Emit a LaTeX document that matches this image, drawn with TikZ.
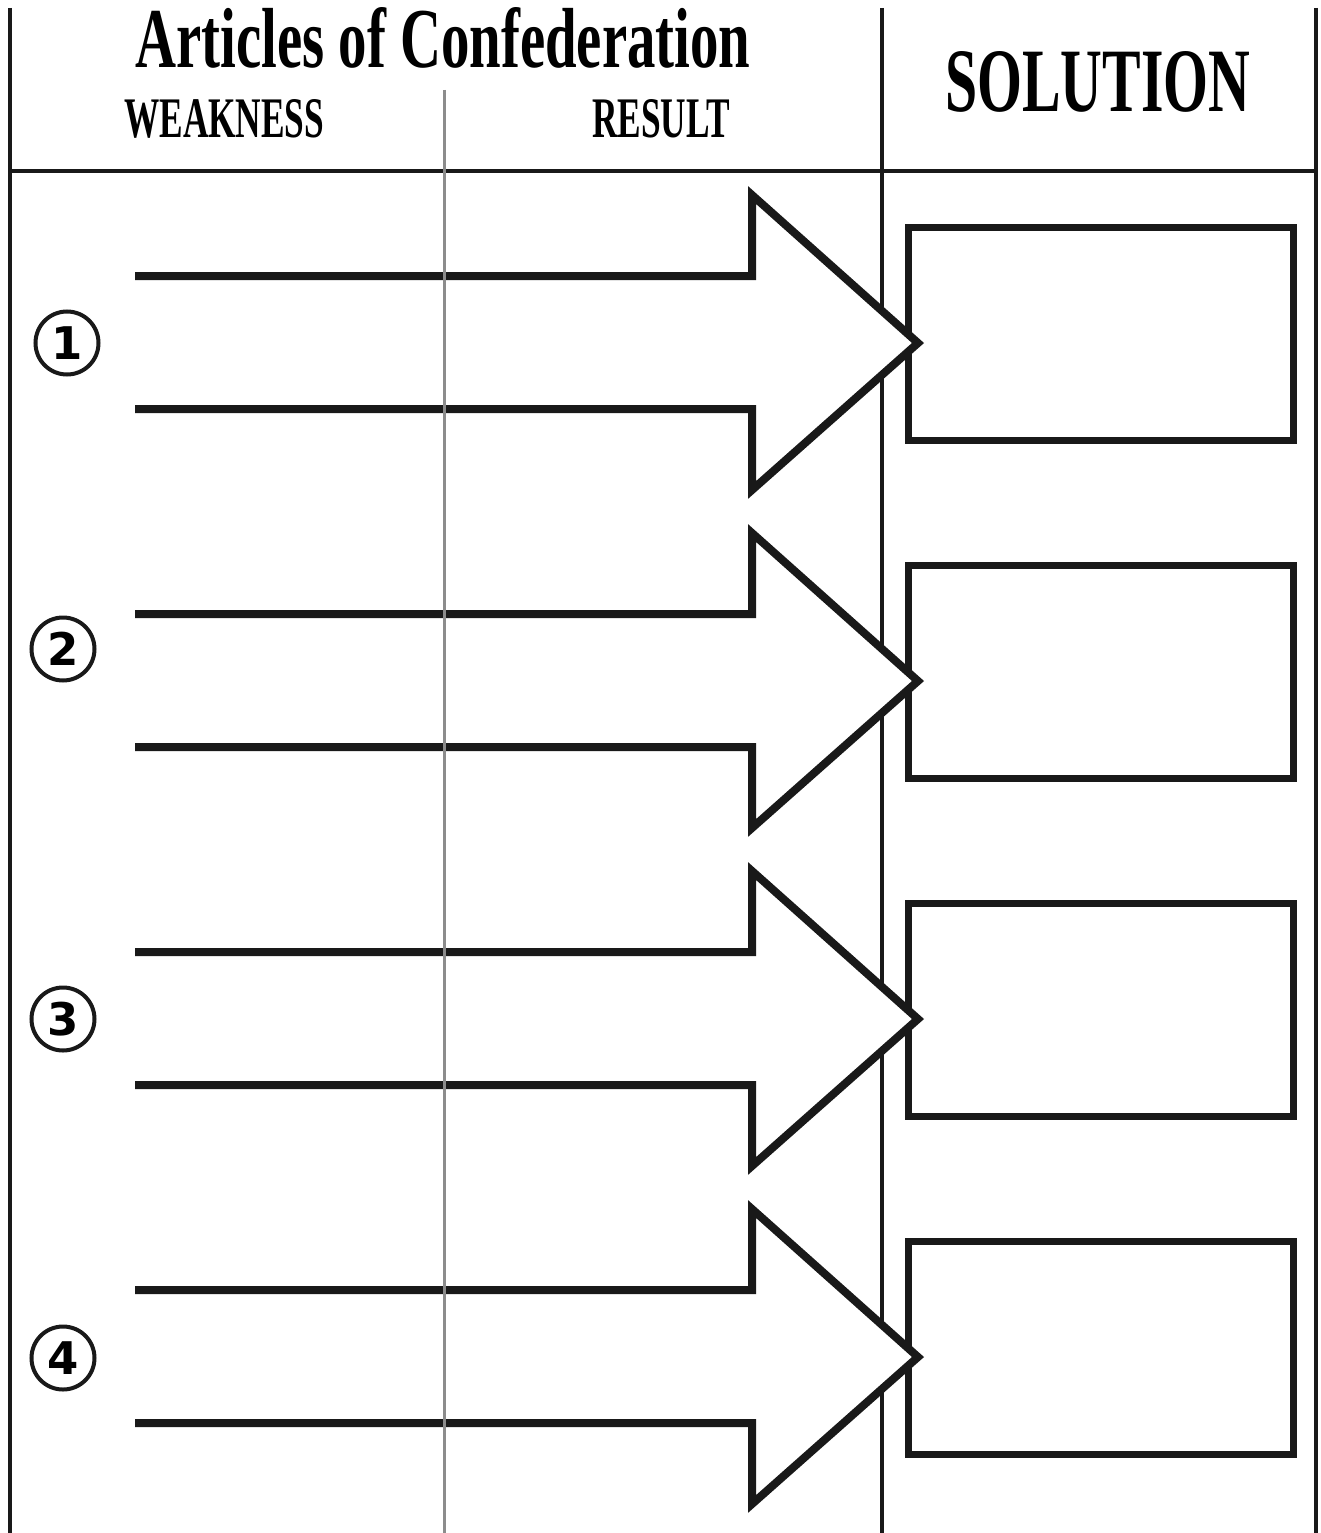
\documentclass[tikz,border=0pt]{standalone}
\usepackage{fontspec}
\setmainfont{Liberation Serif}
\newfontfamily\numfont{DejaVu Sans}
\begin{document}
\begin{tikzpicture}[x=1pt,y=-1pt,
  frame/.style={line width=3.5pt,draw=black!90},
  divider/.style={line width=3pt,draw=black!45},
  sbox/.style={draw=black!90,line width=7pt,minimum width=385pt,minimum height=213pt,inner sep=0pt,outer sep=0pt,anchor=north west,fill=white},
  arrowline/.style={draw=black!90,line width=8pt,line join=miter},
  numcirc/.style={circle,draw=black!90,line width=4pt,minimum size=63pt,inner sep=0pt,font=\numfont\bfseries\fontsize{45}{45}\selectfont},
  lbl/.style={inner sep=0pt,anchor=base west,font=\bfseries}]
\useasboundingbox (0,0) rectangle (1320,1533);
% frame
\draw[frame] (10,8) -- (10,1533);
\draw[frame] (882,8) -- (882,1533);
\draw[frame] (1316,8) -- (1316,1533);
\draw[frame] (10,171) -- (1316,171);
% headings
\node[lbl] (title) at (135,68) {\resizebox{615pt}{60pt}{Articles of Confederation}};
\node[lbl] (weak) at (124,138) {\resizebox{200pt}{38pt}{WEAKNESS}};
\node[lbl] (res) at (592,138) {\resizebox{138pt}{38pt}{RESULT}};
\node[lbl] (sol) at (945,112) {\resizebox{305pt}{60pt}{SOLUTION}};
% boxes and arrows
\foreach \i in {1,2,3,4}{
  \pgfmathsetmacro{\off}{(\i-1)*338}
  \node[sbox] (box\i) at (908.5,\off+227.5) {};
  \fill[white] (135,\off+276) -- (752,\off+276) -- (752,\off+195) -- (918,\off+343) -- (752,\off+490) -- (752,\off+409) -- (135,\off+409) -- cycle;
  \draw[arrowline] (135,\off+276) -- (752,\off+276) -- (752,\off+195) -- (918,\off+343) -- (752,\off+490) -- (752,\off+409) -- (135,\off+409);
}
\node[numcirc] (n1) at (67,343) {1};
\node[numcirc] (n2) at (63,649) {2};
\node[numcirc] (n3) at (63,1019) {3};
\node[numcirc] (n4) at (63,1358) {4};
% divider
\draw[divider] (444,90) -- (444,1533);
\end{tikzpicture}
\end{document}
